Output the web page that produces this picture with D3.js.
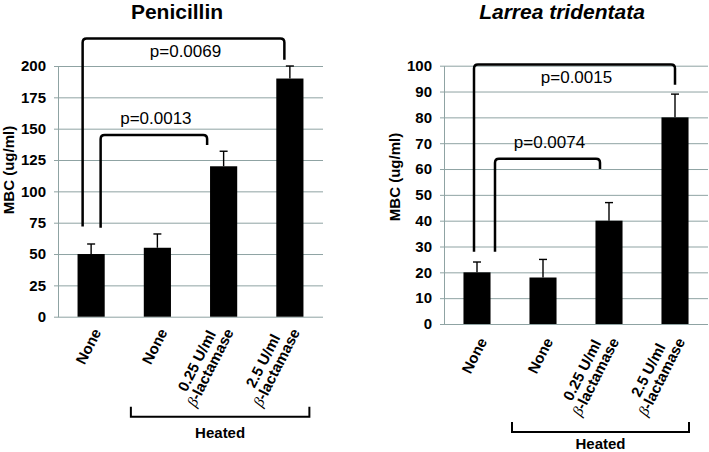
<!DOCTYPE html>
<html>
<head>
<meta charset="utf-8">
<script src="https://cdn.jsdelivr.net/npm/d3@7"></script>
<style>
  body { margin: 0; background: #fff; }
  svg { display: block; font-family: "Liberation Sans", Arial, sans-serif; }
</style>
</head>
<body>
<svg id="chart" width="709" height="452"></svg>
<script>
// categories (second line is prefixed with an italic beta)
var catLine1 = ["None", "None", "0.25 U/ml", "2.5 U/ml"];
var catLine2 = ["", "", "-lactamase", "-lactamase"];

// Penicillin panel
var penMBC = [50, 55, 120, 190];
var penErr = [8, 11, 12, 10];
var penTicks = [0, 25, 50, 75, 100, 125, 150, 175, 200];
var penBrFrom = [0, 0], penBrTo = [2, 3];
var penBrLeftEnd = [71, 72], penBrTop = [145, 222], penBrRightEnd = [137, 205];
var penP = ["p=0.0013", "p=0.0069"];

// Larrea tridentata panel
var larMBC = [20, 18, 40, 80];
var larErr = [4, 7, 7, 9];
var larTicks = [0, 10, 20, 30, 40, 50, 60, 70, 80, 90, 100];
var larBrFrom = [0, 0], larBrTo = [2, 3];
var larBrLeftEnd = [28, 28], larBrTop = [64, 100.5], larBrRightEnd = [60, 92.6];
var larP = ["p=0.0074", "p=0.0015"];

var svg = d3.select("#chart");
var gridColor = "#8fa3a3";

function drawPanel(p) {
  var g = svg.append("g");
  var x = d3.scaleBand().domain(d3.range(catLine1.length))
    .range([p.x0, p.x1]).paddingInner(0.59).paddingOuter(0.295);
  var y = d3.scaleLinear().domain([0, d3.max(p.ticks)]).range([p.y0, p.y1]);
  var cx = function(i) { return x(i) + x.bandwidth() / 2; };

  // grid lines + y axis
  var ax = g.append("g")
    .attr("transform", "translate(" + p.x0 + ",0)")
    .call(d3.axisLeft(y).tickValues(p.ticks).tickSize(-(p.x1 - p.x0)).tickSizeOuter(0).tickPadding(12));
  ax.select(".domain").attr("stroke", gridColor);
  ax.selectAll(".tick line").attr("stroke", gridColor).attr("x1", -4);
  ax.selectAll(".tick text")
    .attr("font-size", "15px").attr("font-weight", "bold").attr("fill", "#000")
    .attr("font-family", "Liberation Sans, Arial, sans-serif");

  // bars
  g.selectAll(".bar").data(p.values).enter().append("rect")
    .attr("x", function(d, i) { return x(i); })
    .attr("y", function(d) { return y(d); })
    .attr("width", x.bandwidth())
    .attr("height", function(d) { return p.y0 - y(d); })
    .attr("fill", "#000");

  // error bars (upper only)
  p.values.forEach(function(v, i) {
    g.append("line").attr("x1", cx(i)).attr("x2", cx(i))
      .attr("y1", y(v)).attr("y2", y(v + p.errs[i]))
      .attr("stroke", "#000").attr("stroke-width", 1.4);
    g.append("line").attr("x1", cx(i) - 4).attr("x2", cx(i) + 4)
      .attr("y1", y(v + p.errs[i])).attr("y2", y(v + p.errs[i]))
      .attr("stroke", "#000").attr("stroke-width", 1.4);
  });

  // significance brackets
  p.brFrom.forEach(function(f, k) {
    var xl = cx(f) + p.brOffL[k], xr = cx(p.brTo[k]) + p.brOffR[k];
    var yt = y(p.brTop[k]), r = 4;
    var path = "M" + xl + "," + y(p.brLeftEnd[k]) +
      "L" + xl + "," + (yt + r) + "Q" + xl + "," + yt + "," + (xl + r) + "," + yt +
      "L" + (xr - r) + "," + yt + "Q" + xr + "," + yt + "," + xr + "," + (yt + r) +
      "L" + xr + "," + y(p.brRightEnd[k]);
    g.append("path").attr("d", path).attr("fill", "none")
      .attr("stroke", "#000").attr("stroke-width", 2.5);
    g.append("text").attr("x", (xl + xr) / 2 + 2).attr("y", yt + p.pDy[k])
      .attr("text-anchor", "middle").attr("font-size", "17px").text(p.pLabels[k]);
  });

  // rotated category labels
  catLine1.forEach(function(l1, i) {
    var lg = g.append("g")
      .attr("transform", "translate(" + (cx(i) + p.labDx) + "," + (p.y0 + p.labDy) + ") rotate(-63)");
    if (catLine2[i] === "") {
      lg.append("text").attr("text-anchor", "end").attr("y", 5)
        .attr("font-size", "15px").attr("font-weight", "bold").text(l1);
    } else {
      var t2 = lg.append("text").attr("text-anchor", "end").attr("y", 5)
        .attr("font-size", "15px").attr("font-weight", "bold");
      t2.append("tspan").attr("font-family", "Liberation Serif, serif")
        .attr("font-style", "italic").attr("font-weight", "normal").text("\u03B2");
      t2.append("tspan").text(catLine2[i]);
      var w = t2.node().getComputedTextLength();
      lg.append("text").attr("text-anchor", "middle").attr("x", -w / 2).attr("y", 5 - 15)
        .attr("font-size", "15px").attr("font-weight", "bold").text(l1);
    }
  });

  // "Heated" group bracket
  var hl = cx(1) + p.heatL, hr = cx(3) + p.heatR, hy = p.y0 + p.heatDy;
  g.append("path")
    .attr("d", "M" + hl + "," + (hy - 10) + "L" + hl + "," + hy + "L" + hr + "," + hy + "L" + hr + "," + (hy - 10))
    .attr("fill", "none").attr("stroke", "#000").attr("stroke-width", 2);
  g.append("text").attr("x", (hl + hr) / 2).attr("y", hy + p.heatTextDy)
    .attr("text-anchor", "middle").attr("font-size", "15px").attr("font-weight", "bold").text("Heated");

  // title
  g.append("text").attr("x", p.titleX).attr("y", p.titleY).attr("text-anchor", "middle")
    .attr("font-size", "21px").attr("font-weight", "bold")
    .attr("font-style", p.titleItalic ? "italic" : "normal").text(p.title);

  // y axis label
  g.append("text")
    .attr("transform", "translate(" + p.ylabX + "," + p.ylabY + ") rotate(-90)")
    .attr("text-anchor", "middle").attr("font-size", "15px").attr("font-weight", "bold")
    .text("MBC (ug/ml)");
}

drawPanel({
  x0: 58, x1: 323, y0: 316.7, y1: 66, ticks: penTicks,
  values: penMBC, errs: penErr,
  brFrom: penBrFrom, brTo: penBrTo, brOffL: [9.5, -8.5], brOffR: [-16.5, -5.5],
  brLeftEnd: penBrLeftEnd, brTop: penBrTop, brRightEnd: penBrRightEnd,
  pLabels: penP, pDy: [-11, 19],
  labDx: 6, labDy: 13,
  heatL: -26.5, heatR: 19.5, heatDy: 100, heatTextDy: 21,
  title: "Penicillin", titleItalic: false, titleX: 177, titleY: 19,
  ylabX: 14, ylabY: 170
});

drawPanel({
  x0: 444, x1: 708, y0: 324, y1: 65.7, ticks: larTicks,
  values: larMBC, errs: larErr,
  brFrom: larBrFrom, brTo: larBrTo, brOffL: [18, -3], brOffR: [-9, 0],
  brLeftEnd: larBrLeftEnd, brTop: larBrTop, brRightEnd: larBrRightEnd,
  pLabels: larP, pDy: [-11, 19],
  labDx: 6, labDy: 15,
  heatL: -31, heatR: 14, heatDy: 108, heatTextDy: 17,
  title: "Larrea tridentata", titleItalic: true, titleX: 562, titleY: 19,
  ylabX: 400, ylabY: 177
});
</script>
</body>
</html>
